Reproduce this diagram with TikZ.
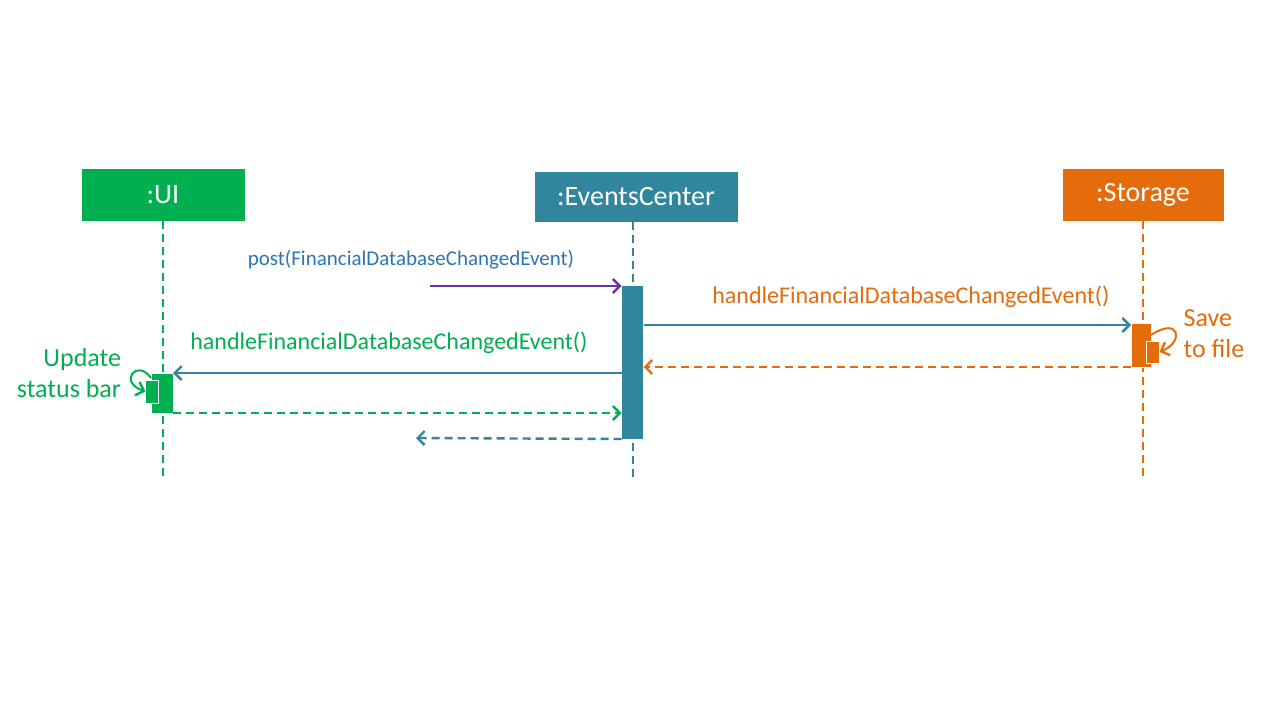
\documentclass[tikz,border=0pt]{standalone}
\usepackage{fontspec}
\setmainfont{Carlito}
\usetikzlibrary{arrows.meta, positioning}

\definecolor{uigreen}{HTML}{00B050}
\definecolor{evteal}{HTML}{31859C}
\definecolor{storange}{HTML}{E46C0A}
\definecolor{postpurple}{HTML}{7030A0}
\definecolor{postblue}{HTML}{2E75B6}

\begin{document}
\begin{tikzpicture}[
    x=1pt, y=-1pt,
    every node/.style={inner sep=0pt, outer sep=0pt},
    header/.style={draw=white, fill=#1, text=white, font=\fontsize{28}{28}\selectfont, minimum height=53pt},
    lifeline/.style={draw=#1, dash pattern=on 8pt off 5pt, line width=2.2pt},
    actbar/.style={fill=#1, draw=white, line width=0.8pt, minimum width=22pt},
    nestbar/.style={fill=#1, draw=white, line width=0.8pt, minimum width=13pt},
    msg/.style={draw=#1, line width=2.4pt, -{Straight Barb[length=7pt, width=14pt, line width=2.4pt]}},
    reply/.style={msg=#1, dash pattern=on 8pt off 5pt},
    lbl/.style={font=\fontsize{24}{24}\selectfont, text=#1}
]
\useasboundingbox[fill=white] (0,0) rectangle (1280,720);

% participants
\node[header=uigreen, minimum width=164pt] (ui) at (163,194.5) {:UI};
\node[header=evteal, minimum width=204pt, minimum height=51pt] (ec) at (636,196.5) {:EventsCenter};
\node[header=storange, minimum width=162pt] (st) at (1143,194.5) {:Storage};

% lifeline ends
\coordinate (uiend) at (163,476);
\coordinate (ecend) at (633,477);
\coordinate (stend) at (1143,476);

\draw[lifeline=uigreen] (ui.south) -- (uiend);
\draw[lifeline=evteal] (ec.south -| ecend) -- (ecend);
\draw[lifeline=storange] (st.south) -- (stend);

% activation bars
\node[actbar=evteal, minimum height=154pt] (ecbar) at (632.5,362) {};
\node[actbar=storange, minimum width=20pt, minimum height=44pt] (stbar) at (1141,345) {};
\node[nestbar=storange, minimum height=22pt] (stself) at (1153,352) {};
\node[actbar=uigreen, minimum height=40pt] (uibar) at (162,393) {};
\node[nestbar=uigreen, minimum height=23pt] (uiself) at (152,391.5) {};

% free ends
\coordinate (postsrc) at (430,286);
\coordinate (backdst) at (416,438);

% messages
\draw[msg=postpurple] (postsrc) -- (ecbar.north west |- postsrc);
\node[lbl=postblue, font=\fontsize{21}{21}\selectfont] (postlbl) at (411,260) {post(FinancialDatabaseChangedEvent)};

\draw[msg=evteal] (ecbar.east |- 0,325) -- (stbar.west |- 0,325);
\node[lbl=storange] (stlbl) at (911,297) {handleFinancialDatabaseChangedEvent()};

\draw[reply=storange] (stbar.south west) -- (ecbar.east |- stbar.south west);

\draw[msg=evteal] (ecbar.west |- uibar.north) -- (uibar.north east);
\node[lbl=uigreen] (uilbl) at (389,343) {handleFinancialDatabaseChangedEvent()};

\draw[reply=uigreen] (uibar.south east) -- (ecbar.west |- uibar.south east);
\draw[reply=evteal] (ecbar.south west) -- (backdst);

% self calls
\draw[msg=storange, line width=2pt] (stbar.north east) ++(0,12) .. controls (1180,316) and (1184,342) .. (stself.east);
\node[lbl=storange, font=\fontsize{26}{26}\selectfont, align=left] (stnote) at (1214,334) {Save\\[5pt]to file};

\draw[msg=uigreen, line width=2pt] (uibar.north west) ++(0,5) .. controls (137,358) and (118,382) .. (uiself.west);
\node[lbl=uigreen, font=\fontsize{26}{26}\selectfont, align=right] (uinote) at (69,373) {Update\\[5pt]status bar};

\end{tikzpicture}
\end{document}
